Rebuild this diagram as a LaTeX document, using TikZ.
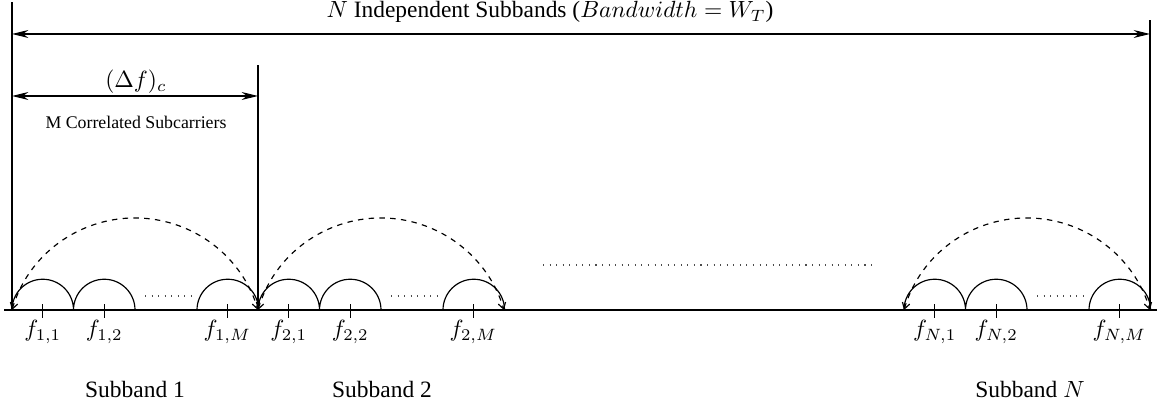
\documentclass[tikz,border=0pt]{standalone}
\usepackage[no-math]{fontspec}
\setmainfont{Liberation Serif}
\usetikzlibrary{arrows.meta}
\begin{document}
\begin{tikzpicture}[x=0.015cm,y=0.015cm,
  vline/.style={line width=0.45pt},
  axis/.style={line width=0.9pt},
  dimarrow/.style={line width=0.5pt,{Stealth[length=7pt,width=3.4pt]}-{Stealth[length=7pt,width=3.4pt]}},
  carrier/.style={line width=0.5pt},
  envelope/.style={line width=0.5pt,dash pattern=on 2.3pt off 2.3pt,{Straight Barb[length=2.6pt,width=3.2pt]}-{Straight Barb[length=2.6pt,width=3.2pt]}},
  gapdots/.style={line width=0.5pt,dash pattern=on 0.45pt off 2.35pt,black!70},
  ticks/.style={line width=0.5pt},
  lbl/.style={inner sep=0pt,font=\fontsize{10}{12}\selectfont}]
\useasboundingbox (0,0) rectangle (1157,416);
% frame lines
\coordinate (Lb) at (12,106);   \coordinate (Lt) at (12,414);
\coordinate (Mb) at (258,106);  \coordinate (Mt) at (258,351);
\coordinate (Rb) at (1150,106); \coordinate (Rt) at (1150,396);
\draw[vline] (Lb) -- (Lt);
\draw[vline] (Mb) -- (Mt);
\draw[vline] (Rb) -- (Rt);
% axis
\coordinate (A0) at (4,106); \coordinate (A1) at (1157,106);
\draw[axis] (A0) -- (A1);
% total bandwidth arrow
\coordinate (TA1) at (12,382); \coordinate (TA2) at (1150,382);
\draw[dimarrow] (TA1) -- (TA2);
\node[lbl] (title) at (550,404) {$N$ Independent Subbands ($Bandwidth=W_T$)};
% coherence bandwidth arrow
\coordinate (CA1) at (12,320); \coordinate (CA2) at (258,320);
\draw[dimarrow] (CA1) -- (CA2);
\node[lbl] (df) at (136,334) {$(\Delta f)_c$};
\node[lbl,font=\fontsize{7.6}{9}\selectfont] (mcs) at (136,294) {M Correlated Subcarriers};
% subbands
\foreach \s/\n/\k in {12/1/1,258/2/2,904/N/N}{
  \draw[carrier] (\s,106) arc[start angle=180,end angle=0,radius=0.46125cm]
                 arc[start angle=180,end angle=0,radius=0.46125cm];
  \draw[carrier] (\s+185,106) arc[start angle=180,end angle=0,radius=0.46125cm];
  \draw[gapdots] (\s+133,120) -- (\s+179,120);
  \draw[envelope] (\s,106) arc[start angle=163.6,end angle=16.4,radius=1.923cm];
  \foreach \t in {30.75,92.25,215.25}{
    \draw[ticks] (\s+\t,98) -- (\s+\t,112);
  }
  \node[lbl] (f\k a) at (\s+30.75,84) {$f_{\n,1}$};
  \node[lbl] (f\k b) at (\s+92.25,84) {$f_{\n,2}$};
  \node[lbl] (f\k m) at (\s+215.25,84) {$f_{\n,M}$};
}
\node[lbl] (sb1) at (135,27) {Subband 1};
\node[lbl] (sb2) at (382,27) {Subband 2};
\node[lbl] (sbN) at (1030,27) {Subband $N$};
% middle dots
\coordinate (D0) at (543,151); \coordinate (D1) at (873,151);
\draw[gapdots] (D0) -- (D1);
\end{tikzpicture}
\end{document}
